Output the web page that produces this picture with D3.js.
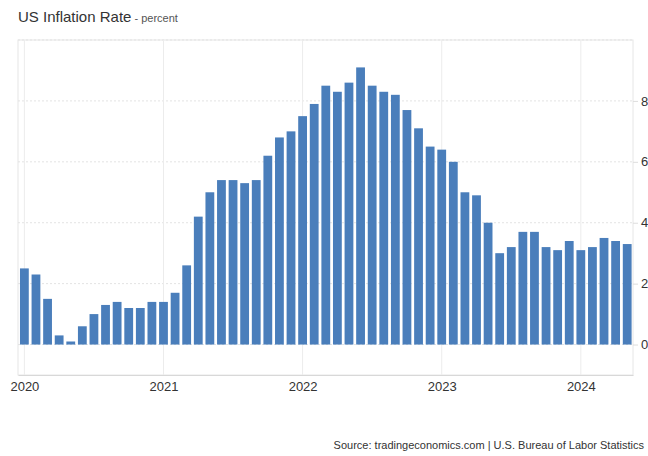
<!DOCTYPE html>
<html>
<head>
<meta charset="utf-8">
<script src="https://cdn.jsdelivr.net/npm/d3@7"></script>
<style>
  body { margin: 0; background: #fff; font-family: "Liberation Sans", Arial, sans-serif; }
  svg { display: block; }
</style>
</head>
<body>
<div id="chart"></div>
<script>
const width = 648,
  height = 456;
const margin = { top: 40, right: 15, bottom: 81, left: 18 };

// monthly CPI YoY, Jan 2020 .. May 2024
const startYear = 2020;
const values = [
  2.5, 2.3, 1.5, 0.3, 0.1, 0.6, 1.0, 1.3, 1.4, 1.2, 1.2, 1.4,
  1.4, 1.7, 2.6, 4.2, 5.0, 5.4, 5.4, 5.3, 5.4, 6.2, 6.8, 7.0,
  7.5, 7.9, 8.5, 8.3, 8.6, 9.1, 8.5, 8.3, 8.2, 7.7, 7.1, 6.5,
  6.4, 6.0, 5.0, 4.9, 4.0, 3.0, 3.2, 3.7, 3.7, 3.2, 3.1, 3.4,
  3.1, 3.2, 3.5, 3.4, 3.3
];
const yearLabels = ["2020", "2021", "2022", "2023", "2024"];
const yTicks = [0, 2, 4, 6, 8];

const x = d3
  .scaleLinear()
  .domain([-0.55, values.length - 0.5])
  .range([margin.left, width - margin.right]);
const y = d3
  .scaleLinear()
  .domain([-1, 10])
  .range([height - margin.bottom, margin.top]);

const svg = d3
  .select("#chart")
  .append("svg")
  .attr("width", width)
  .attr("height", height);

// title
const title = svg.append("text").attr("x", 18).attr("y", 22).attr("fill", "#333");
title.append("tspan").attr("font-size", 15).text("US Inflation Rate");
title.append("tspan").attr("font-size", 11).attr("fill", "#555").text(" - percent");

// frame
svg
  .append("rect")
  .attr("x", margin.left)
  .attr("y", margin.top)
  .attr("width", width - margin.right - margin.left)
  .attr("height", height - margin.bottom - margin.top)
  .attr("fill", "none")
  .attr("stroke", "#e6e6e6");

// horizontal grid
svg
  .selectAll(".hgrid")
  .data(yTicks.concat([10]))
  .enter()
  .append("line")
  .attr("class", "hgrid")
  .attr("x1", margin.left)
  .attr("x2", width - margin.right)
  .attr("y1", (d) => y(d))
  .attr("y2", (d) => y(d))
  .attr("stroke", "#e3e3e3")
  .attr("stroke-dasharray", "2,2");

// vertical grid at years
svg
  .selectAll(".vgrid")
  .data(yearLabels)
  .enter()
  .append("line")
  .attr("class", "vgrid")
  .attr("x1", (d, i) => x(i * 12))
  .attr("x2", (d, i) => x(i * 12))
  .attr("y1", margin.top)
  .attr("y2", height - margin.bottom)
  .attr("stroke", "#ececec");

// bars
const bw = 8.8;
svg
  .selectAll(".bar")
  .data(values)
  .enter()
  .append("rect")
  .attr("class", "bar")
  .attr("x", (d, i) => x(i) - bw / 2)
  .attr("y", (d) => y(d))
  .attr("width", bw)
  .attr("height", (d) => y(0) - y(d))
  .attr("fill", "#4a7ebb");

// bottom axis
const xAxis = svg
  .append("g")
  .attr("transform", `translate(0,${height - margin.bottom})`)
  .call(
    d3
      .axisBottom(x)
      .tickValues(yearLabels.map((d, i) => i * 12))
      .tickFormat((d) => yearLabels[d / 12])
      .tickSize(0)
      .tickPadding(7)
  );
xAxis.select(".domain").attr("stroke", "#d8d8d8");
xAxis.selectAll("text").attr("font-size", 13).attr("fill", "#333").attr("font-family", "Liberation Sans, Arial, sans-serif");

// right axis
const yAxis = svg
  .append("g")
  .attr("transform", `translate(${width - margin.right},0)`)
  .call(d3.axisRight(y).tickValues(yTicks).tickSize(5).tickPadding(3));
yAxis.select(".domain").remove();
yAxis.selectAll("line").attr("stroke", "#ddd");
yAxis.selectAll("text").attr("font-size", 13).attr("fill", "#333").attr("font-family", "Liberation Sans, Arial, sans-serif");

// source (kept fully inside the page)
svg
  .append("text")
  .attr("x", width - 4)
  .attr("y", 449)
  .attr("text-anchor", "end")
  .attr("font-size", 11)
  .attr("fill", "#333")
  .text("Source: tradingeconomics.com | U.S. Bureau of Labor Statistics");
</script>
</body>
</html>
